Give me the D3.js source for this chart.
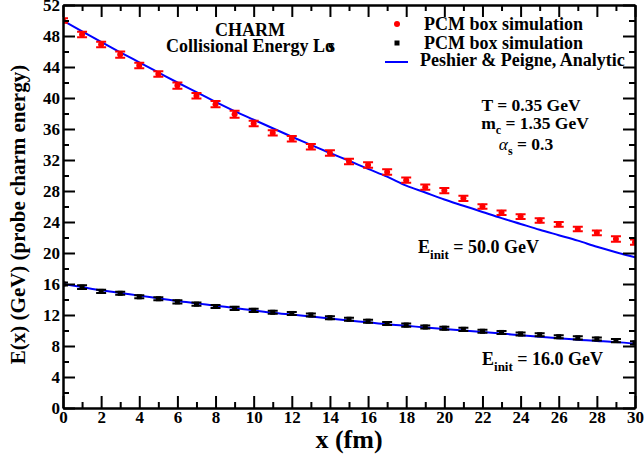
<!DOCTYPE html>
<html>
<head>
<meta charset="utf-8">
<script src="https://cdn.jsdelivr.net/npm/d3@7"></script>
<style>
  html, body { margin: 0; padding: 0; background: #fff; }
  svg { display: block; font-family: "Liberation Serif", "Times New Roman", serif; font-weight: bold; }
</style>
</head>
<body>
<svg id="chart" width="644" height="465"></svg>
<script>
// path length x (fm), one point per fm
const xs = d3.range(0, 31);

// PCM box simulation, E_init = 50 GeV (red)
const red = [50.0, 48.2, 46.9, 45.6, 44.2, 43.1, 41.6, 40.3, 39.2, 37.9,
             36.7, 35.5, 34.75, 33.7, 32.9, 31.8, 31.35, 30.45, 29.4, 28.5,
             28.05, 27.05, 26.0, 25.2, 24.7, 24.2, 23.7, 23.1, 22.6, 21.8, 21.4];
const redErr = [0.3, 0.35, 0.35, 0.4, 0.35, 0.35, 0.4, 0.35, 0.4, 0.45,
                0.35, 0.35, 0.35, 0.35, 0.35, 0.35, 0.35, 0.35, 0.35, 0.35,
                0.35, 0.35, 0.3, 0.3, 0.3, 0.3, 0.3, 0.3, 0.3, 0.35, 0.35];

// PCM box simulation, E_init = 16 GeV (black)
const black = [16.0, 15.6, 15.05, 14.8, 14.35, 14.1, 13.7, 13.4, 13.1, 12.85,
               12.6, 12.35, 12.2, 12.0, 11.65, 11.45, 11.2, 10.9, 10.7, 10.45,
               10.3, 10.15, 9.9, 9.75, 9.55, 9.45, 9.2, 9.05, 8.9, 8.7, 8.4];
const blackErr = [0.2, 0.25, 0.2, 0.2, 0.2, 0.2, 0.2, 0.2, 0.2, 0.2,
                  0.2, 0.2, 0.2, 0.2, 0.2, 0.2, 0.2, 0.2, 0.2, 0.2,
                  0.2, 0.2, 0.2, 0.2, 0.2, 0.2, 0.2, 0.2, 0.2, 0.2, 0.2];

// Peshier & Peigne analytic curves
const analytic50 = [50.0, 48.6, 47.25, 45.9, 44.6, 43.3, 42.0, 40.75, 39.5, 38.3,
                    37.2, 36.1, 35.0, 33.95, 32.9, 31.9, 30.85, 29.85, 28.7, 27.8,
                    26.9, 26.1, 25.3, 24.5, 23.75, 23.0, 22.3, 21.6, 20.8, 20.1, 19.45];
const analytic16 = [16.0, 15.6, 15.2, 14.85, 14.5, 14.15, 13.8, 13.5, 13.2, 12.9,
                    12.6, 12.3, 12.05, 11.8, 11.55, 11.3, 11.05, 10.8, 10.6, 10.4,
                    10.2, 10.0, 9.8, 9.6, 9.4, 9.2, 9.0, 8.8, 8.65, 8.5, 8.3];

const xTicks = d3.range(0, 31, 2);
const yTicks = d3.range(0, 53, 4);

(() => {
  const svg = d3.select('#chart');
  const pL = 63, pR = 635, pT = 5, pB = 408;

  const x = d3.scaleLinear().domain([0, 30]).range([pL, pR]);
  const y = d3.scaleLinear().domain([0, 52]).range([pB, pT]);

  svg.append('defs').append('clipPath').attr('id', 'plot')
    .append('rect').attr('x', pL).attr('y', pT)
    .attr('width', pR - pL).attr('height', pB - pT);

  const clip = g => g.attr('clip-path', 'url(#plot)');

  // analytic curves
  const line = d3.line().x((d, i) => x(xs[i])).y(d => y(d)).curve(d3.curveMonotoneX);
  const curves = svg.append('g').call(clip);
  [analytic50, analytic16].forEach(s => {
    curves.append('path').datum(s)
      .attr('d', line)
      .attr('fill', 'none')
      .attr('stroke', '#0000ff')
      .attr('stroke-width', 2);
  });

  // error bars + markers
  function errorBars(vals, errs, color, cap, sw) {
    const g = svg.append('g').call(clip);
    const pts = vals.map((v, i) => ({ x: xs[i], v, e: errs[i] }));
    g.selectAll('path.err').data(pts).join('path')
      .attr('class', 'err')
      .attr('d', d => {
        const px = x(d.x), y0 = y(d.v - d.e), y1 = y(d.v + d.e);
        return `M${px - cap},${y0}H${px + cap}M${px},${y0}V${y1}M${px - cap},${y1}H${px + cap}`;
      })
      .attr('fill', 'none')
      .attr('stroke', color)
      .attr('stroke-width', sw);
    return { g, pts };
  }

  const r = errorBars(red, redErr, '#ff0000', 5, 2);
  r.g.selectAll('circle').data(r.pts).join('circle')
    .attr('cx', d => x(d.x)).attr('cy', d => y(d.v))
    .attr('r', 3).attr('fill', '#ff0000');

  const b = errorBars(black, blackErr, '#000', 5, 2);
  b.g.selectAll('rect').data(b.pts).join('rect')
    .attr('x', d => x(d.x) - 2.5).attr('y', d => y(d.v) - 2.5)
    .attr('width', 5).attr('height', 5).attr('fill', '#000');

  // axes: ticks point inward on all four sides
  function styleAxis(g) {
    g.select('.domain').attr('stroke-width', 2);
    g.selectAll('.tick line').attr('stroke-width', 2);
    g.selectAll('.tick text')
      .attr('font-family', '"Liberation Serif", "Times New Roman", serif')
      .attr('font-weight', 'bold').attr('font-size', 17).attr('fill', '#000');
  }

  const minorX = d3.range(1, 30, 2);
  const minorY = d3.range(2, 52, 4);

  svg.append('g').attr('transform', `translate(0,${pB})`)
    .call(d3.axisBottom(x).tickValues(minorX).tickSize(-6).tickSizeOuter(0).tickFormat(''))
    .call(styleAxis);
  svg.append('g').attr('transform', `translate(0,${pB})`)
    .call(d3.axisBottom(x).tickValues(xTicks).tickSize(-12).tickSizeOuter(0).tickPadding(3))
    .call(styleAxis);
  svg.append('g').attr('transform', `translate(0,${pT})`)
    .call(d3.axisTop(x).tickValues(minorX).tickSize(-6).tickSizeOuter(0).tickFormat(''))
    .call(styleAxis);
  svg.append('g').attr('transform', `translate(0,${pT})`)
    .call(d3.axisTop(x).tickValues(xTicks).tickSize(-12).tickSizeOuter(0).tickFormat(''))
    .call(styleAxis);

  svg.append('g').attr('transform', `translate(${pL},0)`)
    .call(d3.axisLeft(y).tickValues(minorY).tickSize(-6).tickSizeOuter(0).tickFormat(''))
    .call(styleAxis);
  svg.append('g').attr('transform', `translate(${pL},0)`)
    .call(d3.axisLeft(y).tickValues(yTicks).tickSize(-12).tickSizeOuter(0).tickPadding(3))
    .call(styleAxis);
  svg.append('g').attr('transform', `translate(${pR},0)`)
    .call(d3.axisRight(y).tickValues(minorY).tickSize(-6).tickSizeOuter(0).tickFormat(''))
    .call(styleAxis);
  svg.append('g').attr('transform', `translate(${pR},0)`)
    .call(d3.axisRight(y).tickValues(yTicks).tickSize(-12).tickSizeOuter(0).tickFormat(''))
    .call(styleAxis);

  // axis titles
  svg.append('text')
    .attr('x', (pL + pR) / 2).attr('y', 448)
    .attr('text-anchor', 'middle').attr('font-size', 26)
    .text('x (fm)');
  svg.append('text')
    .attr('transform', `translate(25,${(pT + pB) / 2 + 8}) rotate(-90)`)
    .attr('text-anchor', 'middle').attr('font-size', 21)
    .text('E(x) (GeV) (probe charm energy)');

  // title block
  svg.append('text').attr('x', 250).attr('y', 36)
    .attr('text-anchor', 'middle').attr('font-size', 18).text('CHARM');
  const sub = svg.append('text').attr('x', 166).attr('y', 52).attr('font-size', 18);
  sub.append('tspan').text('Collisional Energy Lo');
  sub.append('tspan').attr('dx', -6).text('s');

  // legend
  const lg = svg.append('g').attr('font-size', 18);
  lg.append('circle').attr('cx', 397).attr('cy', 24).attr('r', 3).attr('fill', '#ff0000');
  lg.append('text').attr('x', 424).attr('y', 30).text('PCM box simulation');
  lg.append('rect').attr('x', 394.5).attr('y', 40.5).attr('width', 5).attr('height', 5).attr('fill', '#000');
  lg.append('text').attr('x', 424).attr('y', 49).text('PCM box simulation');
  lg.append('line').attr('x1', 385).attr('x2', 408).attr('y1', 62).attr('y2', 62)
    .attr('stroke', '#0000ff').attr('stroke-width', 2);
  lg.append('text').attr('x', 420).attr('y', 66).text('Peshier & Peigne, Analytic');

  // parameters
  const params = svg.append('g').attr('font-size', 17.5).attr('text-anchor', 'middle');
  params.append('text').attr('x', 531).attr('y', 111).text('T = 0.35 GeV');
  const mc = params.append('text').attr('x', 535).attr('y', 129);
  mc.append('tspan').text('m');
  mc.append('tspan').attr('font-size', 12).attr('dy', 5).text('c');
  mc.append('tspan').attr('dy', -5).text(' = 1.35 GeV');
  const as = params.append('text').attr('x', 526).attr('y', 150);
  as.append('tspan').attr('font-weight', 'normal').attr('font-style', 'italic').text('α');
  as.append('tspan').attr('font-size', 12).attr('dy', 5).text('s');
  as.append('tspan').attr('dy', -5).text(' = 0.3');

  // energy labels
  function eLabel(xp, yp, val) {
    const t = svg.append('text').attr('x', xp).attr('y', yp).attr('font-size', 18);
    t.append('tspan').text('E');
    t.append('tspan').attr('font-size', 13).attr('dy', 6).text('init');
    t.append('tspan').attr('dy', -6).text(` = ${val} GeV`);
  }
  eLabel(418, 253, '50.0');
  eLabel(482, 365, '16.0');
})();
</script>
</body>
</html>
